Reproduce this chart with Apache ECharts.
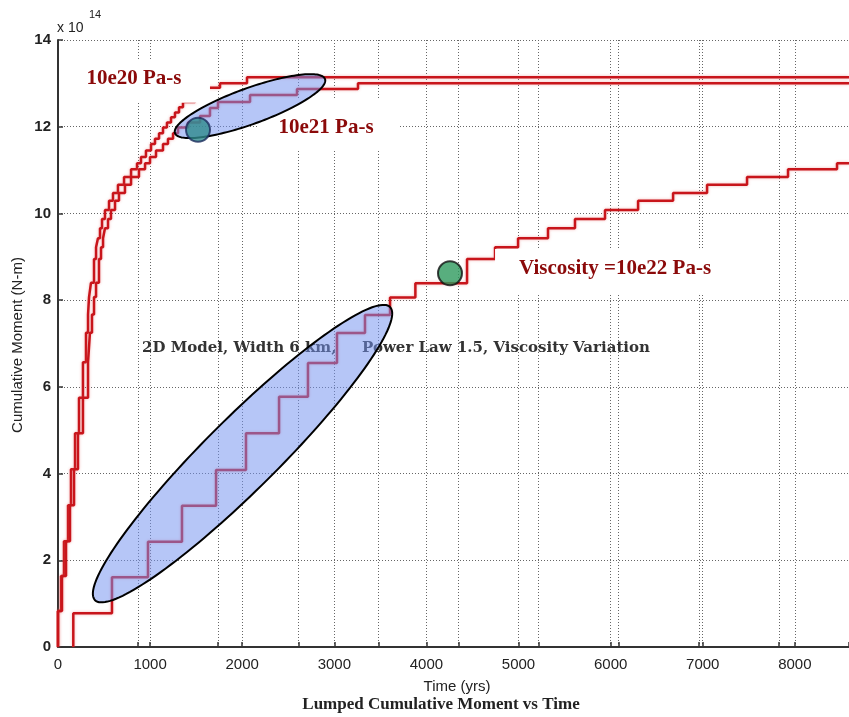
<!DOCTYPE html>
<html><head><meta charset="utf-8">
<script src="https://cdn.jsdelivr.net/npm/echarts@6/dist/echarts.min.js"></script>
<style>html,body{margin:0;padding:0;background:#fff}#c{width:849px;height:717px}</style>
</head><body><div id="c"></div>
<script>
// ---------- data (time in years, cumulative moment in units of 1e14 N-m) ----------
const X_MAX = 8588;
const yTicks = [0, 2, 4, 6, 8, 10, 12, 14];

// Viscosity = 10e22 Pa-s : times of each event and cumulative moment after it
const years10e22 = [166, 586, 977, 1346, 1716, 2041, 2400, 2714, 3029, 3333, 3605, 3880, 4441, 4745, 4995, 5320, 5613, 5939, 6298, 6678, 7047, 7481, 7926, 8458];
const moment10e22 = [0.78, 1.61, 2.43, 3.26, 4.08, 4.93, 5.77, 6.55, 7.24, 7.66, 8.06, 8.39, 8.95, 9.22, 9.43, 9.66, 9.87, 10.08, 10.29, 10.47, 10.66, 10.84, 11.02, 11.16];

// Viscosity = 10e20 Pa-s
const years10e20 = [0, 33, 65, 109, 141, 185, 228, 271, 304, 326, 337, 358, 391, 413, 434, 456, 478, 510, 554, 597, 651, 717, 793, 858, 901, 955, 1010, 1053, 1097, 1140, 1183, 1227, 1270, 1314, 1357, 1488, 1596, 1759, 2052];
const moment10e20 = [0.83, 1.64, 2.44, 3.27, 4.1, 4.93, 5.75, 6.57, 7.25, 7.67, 8.07, 8.4, 8.95, 9.22, 9.43, 9.66, 9.87, 10.08, 10.29, 10.47, 10.66, 10.84, 11.02, 11.16, 11.3, 11.45, 11.6, 11.72, 11.85, 11.98, 12.1, 12.22, 12.33, 12.45, 12.57, 12.75, 12.9, 13.0, 13.14];

// Viscosity = 10e21 Pa-s
const years10e21 = [0, 43, 87, 130, 174, 217, 271, 326, 347, 369, 391, 413, 445, 467, 489, 510, 543, 575, 619, 662, 727, 793, 879, 945, 999, 1064, 1140, 1194, 1249, 1303, 1412, 1542, 1650, 1737, 2085, 2595, 3257];
const moment10e21 = [0.83, 1.64, 2.44, 3.27, 4.1, 4.93, 5.75, 6.57, 7.25, 7.67, 8.07, 8.4, 8.95, 9.22, 9.43, 9.66, 9.87, 10.08, 10.29, 10.47, 10.66, 10.84, 11.02, 11.16, 11.3, 11.45, 11.6, 11.72, 11.85, 11.98, 12.1, 12.25, 12.43, 12.57, 12.73, 12.87, 13.0];

// highlighted points
const markerPoints = [[1520, 11.93], [4256, 8.62]];
// highlight ellipses: endpoints of the long axis [x1, y1, x2, y2]
const ellipseEnds = [[402, 1.08, 3605, 7.84], [1270, 11.85, 2899, 13.10]];
// annotation anchors [x, y]
const labelAnchors = [[825, 13.1], [2910, 11.99], [6048, 8.72], [912, 6.9], [3301, 6.9]];
const labelTexts = ['10e20 Pa-s', '10e21 Pa-s', 'Viscosity =10e22 Pa-s', '2D Model, Width 6 km,', 'Power Law 1.5, Viscosity Variation'];
// white boxes behind labels [x0, yTop, x1, yBottom]
const labelBoxes = [[20, 13.55, 1650, 12.55], [2172, 12.62, 3713, 11.46], [4745, 9.18, 7210, 8.16], null, null];

// ---------- styles ----------
const ellipseMinorPx = [36, 18];
const labelStyles = [
  {font: 'bold 21px "Liberation Serif"', fill: '#8b0a0a', align: 'center'},
  {font: 'bold 21px "Liberation Serif"', fill: '#8b0a0a', align: 'center'},
  {font: 'bold 21px "Liberation Serif"', fill: '#8b0a0a', align: 'center'},
  {font: 'bold 15px "DejaVu Serif"', fill: '#333333', align: 'left'},
  {font: 'bold 15px "DejaVu Serif"', fill: '#333333', align: 'left'}
];
const markerStyles = [
  {color: '#2f8a8c', borderColor: '#1b2c5c', borderWidth: 2},
  {color: '#2e9a5e', borderColor: '#111111', borderWidth: 2}
];

function stepData(times, levels) {
  const d = [[times[0], 0]];
  for (let i = 0; i < times.length; i++) d.push([times[i], levels[i]]);
  d.push([X_MAX, levels[levels.length - 1]]);
  return d;
}

const gridDotted = {show: true, lineStyle: {color: '#666', type: [1, 2], width: 1}};
const lineStyle = {color: '#c8151b', width: 2.5, shadowColor: 'rgba(230,90,90,0.45)', shadowBlur: 3};

const chart = echarts.init(document.getElementById('c'), null, {renderer: 'canvas'});
chart.setOption({
  animation: false,
  backgroundColor: '#fff',
  grid: {left: 58, top: 40, right: 0, bottom: 70, containLabel: false},
  xAxis: [{
    type: 'value', min: 0, max: X_MAX, interval: 1000,
    axisLine: {show: true, onZero: false, lineStyle: {color: '#333', width: 2}},
    axisTick: {show: true, inside: true, length: 5, lineStyle: {color: '#333', width: 1.5}},
    axisLabel: {fontSize: 15, color: '#222', margin: 10, fontFamily: 'Liberation Sans', showMaxLabel: false,
      formatter: function (v) { return String(v); }},
    splitLine: gridDotted
  }, {
    type: 'value', min: 0, max: 9.875, interval: 1, position: 'bottom',
    axisLine: {show: false},
    axisTick: {show: true, inside: true, length: 5, lineStyle: {color: '#333', width: 1.5}},
    axisLabel: {show: false},
    splitLine: gridDotted
  }],
  yAxis: {
    type: 'value', min: yTicks[0], max: yTicks[yTicks.length - 1], interval: 2,
    axisLine: {show: true, lineStyle: {color: '#333', width: 2}},
    axisTick: {show: true, inside: true, length: 5, lineStyle: {color: '#333', width: 1.5}},
    axisLabel: {fontSize: 15, fontWeight: 'bold', color: '#222', margin: 7, fontFamily: 'Liberation Sans'},
    splitLine: gridDotted
  },
  graphic: [
    {type: 'text', x: 57, y: 28, style: {text: 'x 10', font: '14px "Liberation Sans"', fill: '#222', align: 'left', verticalAlign: 'middle'}},
    {type: 'text', x: 89, y: 15, style: {text: '14', font: '11px "Liberation Sans"', fill: '#222', align: 'left', verticalAlign: 'middle'}},
    {type: 'text', x: 18, y: 345, rotation: Math.PI / 2, style: {text: 'Cumulative Moment (N-m)', font: '15px "Liberation Sans"', fill: '#222', align: 'center', verticalAlign: 'middle'}},
    {type: 'text', x: 457, y: 687, style: {text: 'Time (yrs)', font: '15px "Liberation Sans"', fill: '#222', align: 'center', verticalAlign: 'middle'}},
    {type: 'text', x: 441, y: 705, style: {text: 'Lumped Cumulative Moment vs Time', font: 'bold 17px "Liberation Serif"', fill: '#222', align: 'center', verticalAlign: 'middle'}}
  ],
  series: [
    {type: 'line', name: '10e22', step: 'end', showSymbol: false, data: stepData(years10e22, moment10e22), lineStyle: lineStyle, z: 2},
    {type: 'line', name: '10e20', step: 'end', showSymbol: false, data: stepData(years10e20, moment10e20), lineStyle: lineStyle, z: 2},
    {type: 'line', name: '10e21', step: 'end', showSymbol: false, data: stepData(years10e21, moment10e21), lineStyle: lineStyle, z: 2},
    {
      type: 'custom', name: 'labels', z: 3, silent: true,
      data: labelAnchors,
      renderItem: function (params, api) {
        const i = params.dataIndex;
        const children = [];
        const b = labelBoxes[i];
        if (b) {
          const p0 = api.coord([b[0], b[1]]), p1 = api.coord([b[2], b[3]]);
          children.push({type: 'rect', shape: {x: p0[0], y: p0[1], width: p1[0] - p0[0], height: p1[1] - p0[1]}, style: {fill: '#ffffff'}});
        }
        const p = api.coord([api.value(0), api.value(1)]);
        const st = labelStyles[i];
        children.push({type: 'text', x: p[0], y: p[1], style: {text: labelTexts[i], font: st.font, fill: st.fill, align: st.align, verticalAlign: 'middle'}});
        return {type: 'group', children: children};
      }
    },
    {
      type: 'custom', name: 'ellipses', z: 4, silent: true,
      data: ellipseEnds,
      renderItem: function (params, api) {
        const i = params.dataIndex;
        const p1 = api.coord([api.value(0), api.value(1)]);
        const p2 = api.coord([api.value(2), api.value(3)]);
        const cx = (p1[0] + p2[0]) / 2, cy = (p1[1] + p2[1]) / 2;
        const a = Math.hypot(p2[0] - p1[0], p2[1] - p1[1]) / 2;
        const bR = ellipseMinorPx[i];
        const ang = Math.atan2(p2[1] - p1[1], p2[0] - p1[0]);
        const ca = Math.cos(ang), sa = Math.sin(ang);
        const pts = [];
        for (let k = 0; k < 160; k++) {
          const t = k / 160 * Math.PI * 2;
          const ex = a * Math.cos(t), ey = bR * Math.sin(t);
          pts.push([cx + ex * ca - ey * sa, cy + ex * sa + ey * ca]);
        }
        return {type: 'polygon', shape: {points: pts}, style: {fill: 'rgba(115,145,240,0.52)', stroke: '#000', lineWidth: 2}};
      }
    },
    {
      type: 'scatter', name: 'markers', z: 6, symbolSize: 24,
      data: markerPoints.map((v, i) => ({value: v, itemStyle: markerStyles[i]}))
    }
  ]
});
</script></body></html>
